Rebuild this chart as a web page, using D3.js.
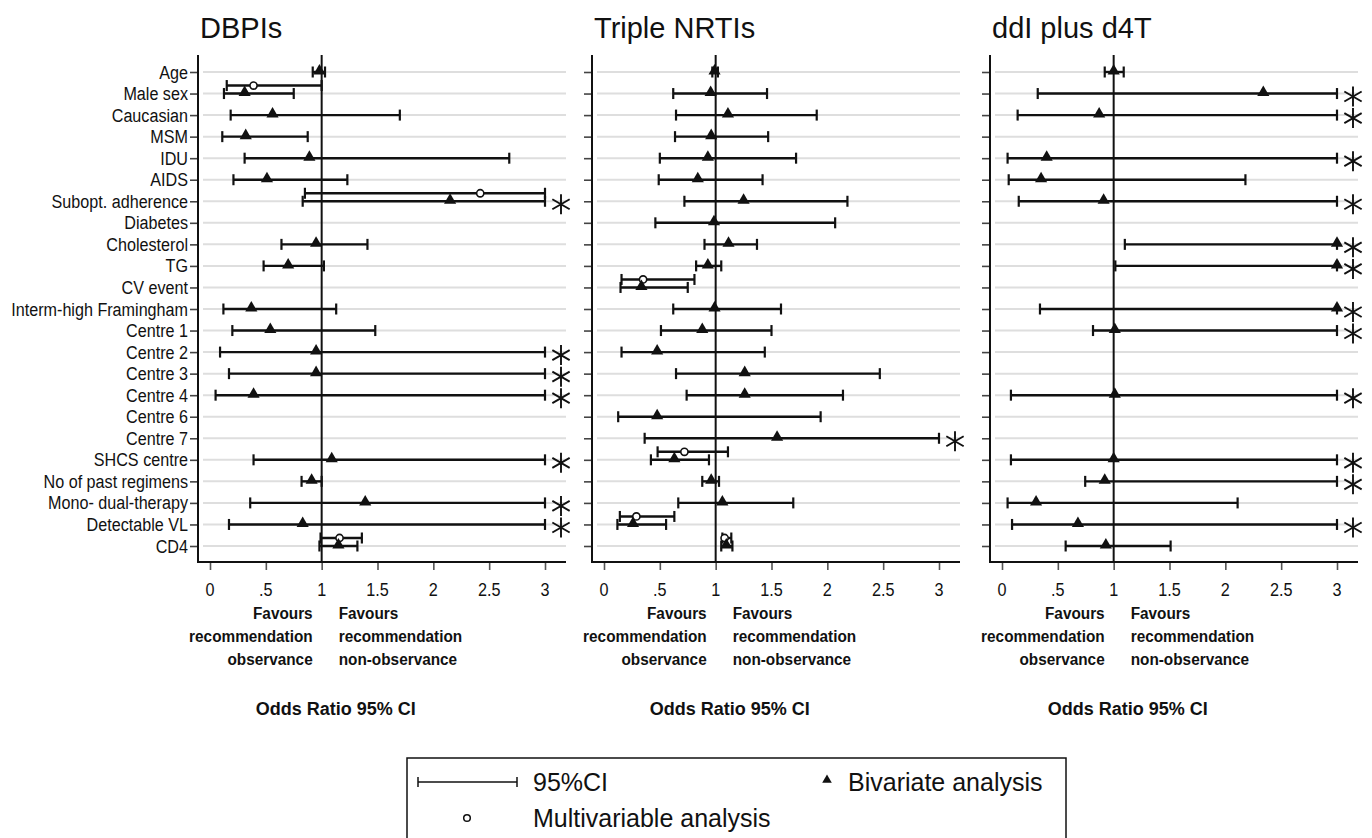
<!DOCTYPE html>
<html><head><meta charset="utf-8">
<script src="https://cdn.jsdelivr.net/npm/d3@7"></script>
<style>
html,body{margin:0;padding:0;background:#fff;}
svg{display:block;font-family:"Liberation Sans",Arial,sans-serif;}
</style></head>
<body>
<svg id="chart" width="1372" height="838"></svg>
<script>
const categories = ["Age","Male sex","Caucasian","MSM","IDU","AIDS","Subopt. adherence","Diabetes","Cholesterol","TG","CV event","Interm-high Framingham","Centre 1","Centre 2","Centre 3","Centre 4","Centre 6","Centre 7","SHCS centre","No of past regimens","Mono- dual-therapy","Detectable VL","CD4"];
const panelTitles = ["DBPIs","Triple NRTIs","ddI plus d4T"];
const xTicks = [0,0.5,1,1.5,2,2.5,3];
const xTickLabels = ["0",".5","1","1.5","2","2.5","3"];
const xLabel = "Odds Ratio 95% CI";
const favLeft = ["Favours","recommendation","observance"];
const favRight = ["Favours","recommendation","non-observance"];

// [category, OR, lower, upper]
const dbpiBivariate = [
  ["Age",0.98,0.92,1.03],["Male sex",0.31,0.125,0.75],["Caucasian",0.56,0.185,1.70],["MSM",0.32,0.11,0.875],
  ["IDU",0.89,0.31,2.68],["AIDS",0.51,0.21,1.23],["Subopt. adherence",2.15,0.83,3],["Cholesterol",0.95,0.64,1.41],
  ["TG",0.70,0.48,1.02],["Interm-high Framingham",0.37,0.12,1.13],["Centre 1",0.54,0.20,1.48],["Centre 2",0.95,0.09,3],
  ["Centre 3",0.95,0.17,3],["Centre 4",0.39,0.05,3],["SHCS centre",1.09,0.39,3],["No of past regimens",0.91,0.82,1.0],
  ["Mono- dual-therapy",1.39,0.36,3],["Detectable VL",0.83,0.17,3],["CD4",1.15,0.98,1.32]
];
const dbpiMultivariable = [
  ["Male sex",0.39,0.15,1.0],["Subopt. adherence",2.42,0.85,3],["CD4",1.16,0.99,1.36]
];
const dbpiTruncated = ["Subopt. adherence","Centre 2","Centre 3","Centre 4","SHCS centre","Mono- dual-therapy","Detectable VL"];

const nrtiBivariate = [
  ["Age",0.99,0.97,1.02],["Male sex",0.955,0.62,1.46],["Caucasian",1.11,0.645,1.905],["MSM",0.96,0.636,1.47],
  ["IDU",0.93,0.50,1.72],["AIDS",0.84,0.49,1.42],["Subopt. adherence",1.25,0.72,2.18],["Diabetes",0.985,0.46,2.07],
  ["Cholesterol",1.115,0.90,1.37],["TG",0.93,0.825,1.05],["CV event",0.335,0.148,0.75],["Interm-high Framingham",0.99,0.62,1.585],
  ["Centre 1",0.88,0.51,1.50],["Centre 2",0.476,0.157,1.44],["Centre 3",1.26,0.645,2.47],["Centre 4",1.26,0.74,2.14],
  ["Centre 6",0.476,0.127,1.94],["Centre 7",1.55,0.364,3],["SHCS centre",0.63,0.42,0.94],["No of past regimens",0.96,0.88,1.03],
  ["Mono- dual-therapy",1.06,0.665,1.695],["Detectable VL",0.26,0.12,0.556],["CD4",1.095,1.05,1.15]
];
const nrtiMultivariable = [
  ["CV event",0.35,0.157,0.81],["SHCS centre",0.72,0.48,1.11],["Detectable VL",0.29,0.142,0.63],["CD4",1.08,1.06,1.14]
];
const nrtiTruncated = ["Centre 7"];

const ddiBivariate = [
  ["Age",1.0,0.92,1.09],["Male sex",2.34,0.32,3],["Caucasian",0.87,0.14,3],["IDU",0.40,0.05,3],["AIDS",0.35,0.06,2.18],
  ["Subopt. adherence",0.91,0.15,3],["Cholesterol",3.0,1.10,3],["TG",3.0,1.015,3],["Interm-high Framingham",3.0,0.34,3],
  ["Centre 1",1.01,0.815,3],["Centre 4",1.01,0.08,3],["SHCS centre",1.0,0.08,3],["No of past regimens",0.92,0.745,3],
  ["Mono- dual-therapy",0.305,0.05,2.11],["Detectable VL",0.68,0.09,3],["CD4",0.93,0.57,1.51]
];
const ddiMultivariable = [];
const ddiTruncated = ["Male sex","Caucasian","IDU","Subopt. adherence","Cholesterol","TG","Interm-high Framingham","Centre 1","Centre 4","SHCS centre","No of past regimens","Detectable VL"];

const panelBivariate = [dbpiBivariate, nrtiBivariate, ddiBivariate];
const panelMultivariable = [dbpiMultivariable, nrtiMultivariable, ddiMultivariable];
const panelTruncated = [dbpiTruncated, nrtiTruncated, ddiTruncated];

const legendLabels = ["95%CI","Bivariate analysis","Multivariable analysis"];

// ---- layout
const svg = d3.select("#chart");
const axisLefts = [198, 592, 990];
const plotW = 368;
const yTop = 55, yBottom = 562;
const y = d3.scalePoint().domain(categories).range([72, 546]);

const multiOffset = -8;

function drawAsterisk(g, cx, cy) {
  const L = 10;
  const p = d3.path();
  [90, 30, 150].forEach(a => {
    const r = a * Math.PI / 180;
    p.moveTo(cx - L * Math.cos(r), cy - L * Math.sin(r));
    p.lineTo(cx + L * Math.cos(r), cy + L * Math.sin(r));
  });
  g.append("path").attr("d", p.toString()).attr("stroke", "#111").attr("stroke-width", 1.9).attr("fill", "none");
}

function drawCI(g, x, yy, lo, hi) {
  g.append("line").attr("x1", x(lo)).attr("x2", x(hi)).attr("y1", yy).attr("y2", yy)
    .attr("stroke", "#111").attr("stroke-width", 2.4);
  [lo, hi].forEach(v => g.append("line").attr("x1", x(v)).attr("x2", x(v)).attr("y1", yy - 5.5).attr("y2", yy + 5.5)
    .attr("stroke", "#111").attr("stroke-width", 2.2));
}

panelTitles.forEach((title, i) => {
  const L = axisLefts[i];
  const g = svg.append("g");
  const x = d3.scaleLinear().domain([0, 3]).range([L + 12, L + 12 + 335]);

  // title
  g.append("text").attr("x", L + 2).attr("y", 38).attr("font-size", 29).attr("fill", "#111").text(title);

  // gridlines
  g.selectAll(".grid").data(categories).join("line")
    .attr("x1", L + 5).attr("x2", L + plotW).attr("y1", d => y(d)).attr("y2", d => y(d))
    .attr("stroke", "#dedede").attr("stroke-width", 2);

  // y axis
  const yAxis = d3.axisLeft(y).tickSize(8).tickPadding(3).tickFormat(() => "");
  const ya = g.append("g").attr("transform", `translate(${L},0)`).call(yAxis);
  ya.select(".domain").remove();
  ya.selectAll(".tick line").attr("stroke", "#444").attr("stroke-width", 1.6);
  g.append("line").attr("x1", L).attr("x2", L).attr("y1", yTop).attr("y2", yBottom + 1)
    .attr("stroke", "#111").attr("stroke-width", 2);
  if (i === 0) {
    categories.forEach(c => {
      g.append("text").attr("transform", `translate(${L - 10},${y(c) + 6.5}) scale(0.85,1)`)
        .attr("text-anchor", "end").attr("font-size", 19).attr("fill", "#111").text(c);
    });
  }

  // x axis
  const xAxis = d3.axisBottom(x).tickValues(xTicks).tickSize(8).tickFormat(() => "");
  const xa = g.append("g").attr("transform", `translate(0,${yBottom})`).call(xAxis);
  xa.select(".domain").remove();
  xa.selectAll(".tick line").attr("stroke", "#555").attr("stroke-width", 1.6);
  g.append("line").attr("x1", L - 1).attr("x2", L + plotW).attr("y1", yBottom).attr("y2", yBottom)
    .attr("stroke", "#111").attr("stroke-width", 2);
  xTicks.forEach((t, k) => {
    g.append("text").attr("transform", `translate(${x(t)},${yBottom + 34}) scale(0.9,1)`)
      .attr("text-anchor", "middle").attr("font-size", 18).attr("fill", "#111").text(xTickLabels[k]);
  });

  // favours
  favLeft.forEach((s, k) => {
    g.append("text").attr("transform", `translate(${x(1) - 9},${619 + k * 23}) scale(0.93,1)`)
      .attr("text-anchor", "end").attr("font-size", 16.5).attr("font-weight", "bold").attr("fill", "#111").text(s);
  });
  favRight.forEach((s, k) => {
    g.append("text").attr("transform", `translate(${x(1) + 17},${619 + k * 23}) scale(0.93,1)`)
      .attr("text-anchor", "start").attr("font-size", 16.5).attr("font-weight", "bold").attr("fill", "#111").text(s);
  });
  g.append("text").attr("x", x(1) + 14).attr("y", 715).attr("text-anchor", "middle")
    .attr("font-size", 18).attr("font-weight", "bold").attr("fill", "#111").text(xLabel);

  // reference line at OR = 1
  g.append("line").attr("x1", x(1)).attr("x2", x(1)).attr("y1", yTop).attr("y2", yBottom)
    .attr("stroke", "#111").attr("stroke-width", 2);

  const multi = panelMultivariable[i];

  multi.forEach(d => drawCI(g, x, y(d[0]) + multiOffset, d[2], d[3]));
  panelBivariate[i].forEach(d => drawCI(g, x, y(d[0]), d[2], d[3]));
  multi.forEach(d => {
    g.append("circle").attr("cx", x(d[1])).attr("cy", y(d[0]) + multiOffset).attr("r", 3.6)
      .attr("fill", "#fff").attr("stroke", "#111").attr("stroke-width", 1.6);
  });
  panelBivariate[i].forEach(d => {
    g.append("path").attr("d", d3.symbol(d3.symbolTriangle, 64)())
      .attr("transform", `translate(${x(d[1])},${y(d[0]) - 1})`).attr("fill", "#111");
  });
  panelTruncated[i].forEach(c => drawAsterisk(g, x(3) + 16, y(c) + 3));
});

// ---- legend
const lg = svg.append("g");
lg.append("rect").attr("x", 407).attr("y", 758).attr("width", 659).attr("height", 100)
  .attr("fill", "none").attr("stroke", "#111").attr("stroke-width", 1.5);
lg.append("line").attr("x1", 418).attr("x2", 517).attr("y1", 782).attr("y2", 782).attr("stroke", "#111").attr("stroke-width", 1.5);
[418, 517].forEach(xx => lg.append("line").attr("x1", xx).attr("x2", xx).attr("y1", 777).attr("y2", 787).attr("stroke", "#111").attr("stroke-width", 1.5));
lg.append("text").attr("x", 533).attr("y", 791).attr("font-size", 25).attr("fill", "#111").text(legendLabels[0]);
lg.append("path").attr("d", d3.symbol(d3.symbolTriangle, 40)()).attr("transform", "translate(827,780)").attr("fill", "#111");
lg.append("text").attr("x", 848).attr("y", 791).attr("font-size", 25).attr("fill", "#111").text(legendLabels[1]);
lg.append("circle").attr("cx", 467).attr("cy", 818).attr("r", 3.3).attr("fill", "#fff").attr("stroke", "#111").attr("stroke-width", 1.5);
lg.append("text").attr("x", 533).attr("y", 827).attr("font-size", 25).attr("fill", "#111").text(legendLabels[2]);
</script>
</body></html>
